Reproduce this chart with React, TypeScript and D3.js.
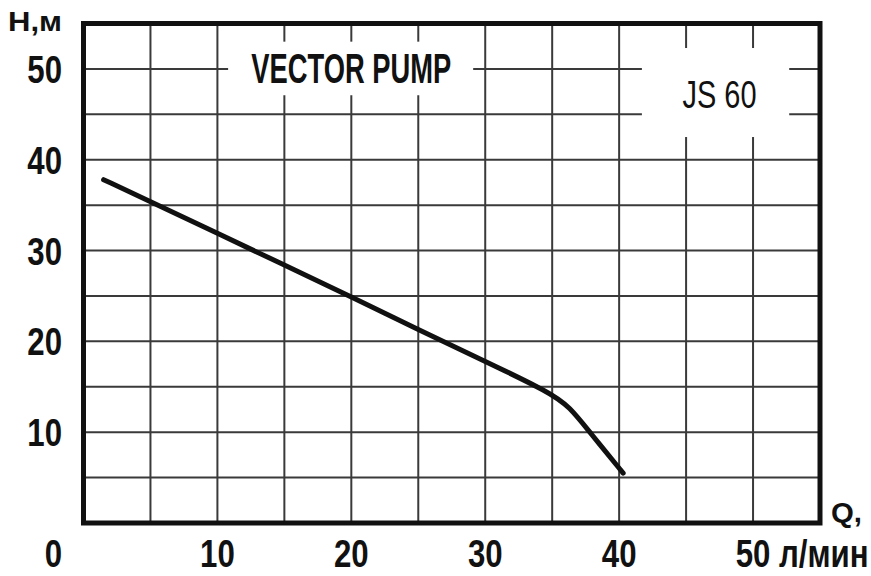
import React from 'react';
import * as d3 from 'd3';

// pump curve (Q in l/min, H in m)
const flow = [1.5, 5, 10, 15, 20, 25, 30, 34.8, 36.3, 37.8, 40.3];
const head = [37.8, 35.4, 31.9, 28.4, 24.9, 21.3, 17.8, 14.4, 12.8, 10, 5.5];

const xTicks = [10, 20, 30, 40, 50];
const yTicks = [10, 20, 30, 40, 50];
const gridSteps = d3.range(5, 55, 5);

const W = 871;
const H = 576;
const margin = { top: 23.5, right: 51, bottom: 53, left: 83.5 };

const x = d3.scaleLinear().domain([0, 55]).range([margin.left, W - margin.right]);
const y = d3.scaleLinear().domain([0, 55]).range([H - margin.bottom, margin.top]);

// label boxes in data units
const titleBox = { x0: 10.8, x1: 29.1, y0: 47.1, y1: 53 };
const modelBox = { x0: 41.7, x1: 52.7, y0: 42.5, y1: 52.3 };

const tickFont = { fontFamily: 'Liberation Sans, Arial, sans-serif', fontWeight: 700, fontSize: 39 };
const unitFont = { fontFamily: 'Liberation Sans, Arial, sans-serif', fontWeight: 700, fontSize: 27 };

export default function App() {
  const line = d3
    .line<number>()
    .x((d, i) => x(flow[i]))
    .y(d => y(d))
    .curve(d3.curveBasis);

  const box = (b: typeof titleBox) => (
    <rect
      x={x(b.x0)}
      y={y(b.y1)}
      width={x(b.x1) - x(b.x0)}
      height={y(b.y0) - y(b.y1)}
      fill="#fff"
    />
  );

  return (
    <svg width={W} height={H} style={{ position: 'absolute', left: 0, top: 0, background: '#fff' }}>
      {/* grid */}
      <g stroke="#3a3a3a" strokeWidth={2}>
        {gridSteps.map(v => (
          <line key={'v' + v} x1={x(v)} x2={x(v)} y1={y(0)} y2={y(55)} />
        ))}
        {gridSteps.map(v => (
          <line key={'h' + v} x1={x(0)} x2={x(55)} y1={y(v)} y2={y(v)} />
        ))}
      </g>

      {box(titleBox)}
      {box(modelBox)}

      <rect
        x={x(0)}
        y={y(55)}
        width={x(55) - x(0)}
        height={y(0) - y(55)}
        fill="none"
        stroke="#111"
        strokeWidth={5}
      />

      <path
        d={line(head) || ''}
        fill="none"
        stroke="#111"
        strokeWidth={5}
        strokeLinecap="round"
        strokeLinejoin="round"
      />

      <text
        x={x(20)}
        y={83}
        textAnchor="middle"
        textLength={200}
        lengthAdjust="spacingAndGlyphs"
        style={{ fontFamily: 'Liberation Sans, Arial, sans-serif', fontWeight: 700, fontSize: 42 }}
        fill="#111"
      >
        VECTOR PUMP
      </text>
      <text
        x={x(47.5)}
        y={108}
        textAnchor="middle"
        textLength={74}
        lengthAdjust="spacingAndGlyphs"
        style={{ fontFamily: 'Liberation Sans, Arial, sans-serif', fontWeight: 400, fontSize: 39 }}
        fill="#111"
      >
        JS 60
      </text>

      {/* y ticks */}
      {yTicks.map(v => (
        <text
          key={'yt' + v}
          transform={`translate(62,${y(v) + 14}) scale(0.8,1)`}
          textAnchor="end"
          style={tickFont}
          fill="#111"
        >
          {v}
        </text>
      ))}
      <text transform="translate(62,567) scale(0.8,1)" textAnchor="end" style={tickFont} fill="#111">
        0
      </text>

      {/* x ticks */}
      {xTicks.map(v => (
        <text
          key={'xt' + v}
          transform={`translate(${x(v)},567) scale(0.8,1)`}
          textAnchor="middle"
          style={tickFont}
          fill="#111"
        >
          {v}
        </text>
      ))}
      <text transform="translate(779,567) scale(0.8,1)" style={tickFont} fill="#111">
        л/мин
      </text>

      <text x={8} y={31} textLength={54} lengthAdjust="spacingAndGlyphs" style={unitFont} fill="#111">
        H,м
      </text>
      <text x={831} y={522} textLength={31} lengthAdjust="spacingAndGlyphs" style={unitFont} fill="#111">
        Q,
      </text>
    </svg>
  );
}
